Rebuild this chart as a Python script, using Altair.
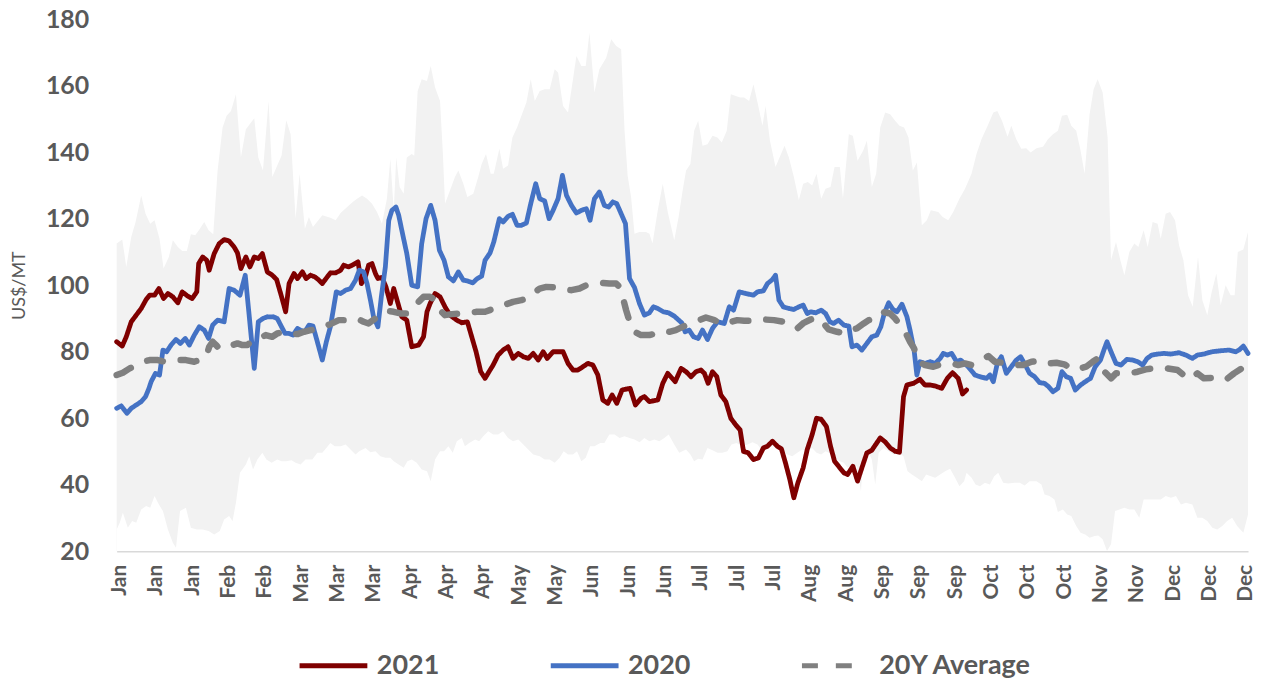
import altair as alt
import pandas as pd

# ---------------- data ----------------
# x = day of year (0 = 1 Jan), y = US$/MT
SERIES_2021 = [
    (0, 83.0), (1.8, 81.7), (3.1, 84.5), (4.7, 89.0), (6.3, 91.0), (7.9, 93.0), (9.5, 95.7), (10.6, 97.0),
    (12.2, 97.0), (13.6, 99.0), (15.1, 96.0), (16.5, 97.5), (18.1, 96.5), (19.7, 94.7), (21.1, 98.0),
    (22.9, 96.7), (24.3, 96.0), (25.8, 98.0), (26.4, 106.5), (27.7, 108.5), (29.0, 107.5), (29.8, 104.5),
    (31.4, 109.5), (33.0, 112.5), (34.6, 113.7), (36.2, 113.3), (37.8, 111.5), (38.9, 109.7), (40.0, 105.0),
    (41.6, 108.5), (42.9, 105.5), (44.3, 108.5), (45.6, 108.0), (46.9, 109.5), (48.5, 104.0), (50.1, 103.0),
    (51.5, 101.7), (53.1, 96.5), (54.4, 92.0), (55.5, 100.5), (57.1, 103.5), (58.2, 102.0), (59.8, 104.0),
    (61.0, 102.0), (62.4, 103.0), (63.8, 102.5), (64.9, 101.7), (66.2, 100.5), (67.8, 102.5), (68.8, 103.7),
    (70.5, 103.7), (72.1, 104.5), (73.1, 106.0), (74.7, 105.5), (75.8, 106.0), (77.7, 107.0), (78.8, 100.5),
    (79.9, 102.0), (81.1, 106.0), (82.2, 106.5), (83.3, 103.5), (84.1, 102.0), (85.4, 102.3), (86.7, 99.5),
    (88.1, 94.5), (89.2, 99.0), (91.8, 90.5), (93.4, 89.5), (95.0, 81.5), (97.2, 82.0), (98.8, 84.5),
    (99.9, 92.0), (100.9, 94.5), (102.5, 97.5), (104.1, 96.5), (105.7, 93.5), (107.3, 91.0), (109.5, 89.5),
    (111.1, 88.7), (112.9, 89.0), (114.3, 84.5), (115.7, 80.0), (117.2, 74.0), (118.6, 72.0), (120.2, 74.5),
    (121.2, 76.0), (122.8, 79.0), (124.4, 80.5), (126.0, 81.5), (127.6, 78.0), (129.3, 79.5), (130.9, 78.5),
    (132.5, 78.0), (134.1, 79.5), (135.7, 77.5), (137.3, 80.0), (138.6, 78.0), (140.5, 80.0), (143.7, 80.0),
    (145.3, 76.5), (146.9, 74.5), (148.5, 74.5), (150.1, 75.5), (151.7, 76.5), (153.3, 76.0), (154.9, 73.0),
    (156.5, 65.5), (158.1, 64.5), (159.5, 67.0), (161.0, 64.5), (162.7, 68.5), (165.3, 69.0), (167.0, 64.0),
    (168.8, 66.0), (169.9, 66.5), (171.5, 65.0), (174.2, 65.5), (175.8, 70.5), (177.4, 73.5), (179.8, 71.0),
    (181.7, 75.0), (183.3, 74.0), (184.9, 72.5), (186.5, 74.0), (188.1, 74.5), (189.2, 73.5), (190.4, 70.5),
    (191.8, 74.0), (193.2, 72.5), (194.5, 67.0), (196.1, 65.0), (197.7, 60.0), (199.3, 58.0), (200.7, 56.5),
    (201.8, 50.0), (203.3, 49.6), (205.0, 47.6), (206.6, 48.1), (208.2, 51.1), (209.5, 51.6), (211.1, 53.1),
    (212.7, 51.6), (214.0, 50.8), (215.3, 46.6), (216.7, 41.6), (218.0, 36.1), (219.3, 40.6), (221.0, 45.1),
    (222.3, 50.6), (223.9, 55.1), (225.3, 60.0), (226.8, 59.7), (228.5, 57.5), (229.8, 51.6), (231.1, 47.1),
    (232.8, 45.1), (234.1, 43.6), (235.3, 43.1), (237.0, 45.6), (238.5, 41.1), (239.9, 45.1), (241.5, 49.6),
    (243.1, 50.4), (245.8, 54.1), (247.4, 52.9), (249.0, 51.1), (250.6, 50.1), (252.0, 49.8), (253.3, 66.5),
    (254.4, 70.0), (256.5, 70.5), (258.6, 71.7), (260.2, 70.0), (261.9, 70.0), (263.5, 69.7), (265.6, 69.0),
    (267.4, 72.0), (269.1, 73.7), (270.9, 72.0), (272.3, 67.3), (273.6, 68.5),
]

SERIES_2020 = [
    (0, 63.0), (1.5, 63.7), (3.3, 61.5), (4.7, 63.0), (6.3, 64.0), (7.9, 65.0), (9.3, 66.5), (10.4, 69.0),
    (11.1, 71.0), (12.5, 73.5), (13.8, 73.0), (14.9, 80.5), (16.1, 80.0), (17.5, 82.0), (19.1, 83.7),
    (20.5, 82.5), (22.1, 84.0), (23.4, 82.0), (25.0, 85.0), (26.6, 87.5), (28.2, 86.5), (29.6, 84.0),
    (30.9, 88.0), (32.5, 89.5), (34.6, 89.0), (36.2, 99.0), (37.8, 98.5), (39.7, 97.0), (41.4, 103.0),
    (42.7, 90.5), (44.3, 75.0), (45.6, 89.0), (47.1, 90.0), (48.5, 90.5), (50.4, 90.5), (51.7, 90.0),
    (52.8, 88.0), (54.2, 85.5), (55.5, 85.5), (56.8, 85.0), (58.2, 87.0), (59.2, 86.5), (60.6, 86.0),
    (61.9, 88.0), (63.2, 87.7), (64.6, 83.0), (66.2, 77.5), (67.5, 83.0), (68.8, 87.5), (69.9, 93.5),
    (70.7, 98.0), (72.1, 97.5), (73.7, 98.5), (75.3, 99.0), (76.9, 101.5), (78.1, 104.5), (79.5, 104.0),
    (80.6, 100.5), (81.7, 95.5), (82.7, 90.5), (84.1, 87.5), (85.2, 96.5), (86.5, 105.5), (87.6, 119.5),
    (88.6, 122.5), (89.9, 123.5), (90.8, 121.0), (91.8, 116.5), (93.4, 109.5), (95.0, 100.0), (96.9, 99.5),
    (98.2, 112.5), (99.6, 120.0), (101.1, 124.0), (102.5, 119.5), (103.9, 110.5), (105.4, 107.5),
    (106.8, 102.5), (108.4, 101.3), (110.0, 104.0), (111.6, 101.5), (112.9, 101.3), (114.6, 100.7),
    (116.1, 102.0), (117.5, 102.7), (118.6, 107.5), (120.2, 109.7), (121.4, 113.0), (123.2, 120.0),
    (124.4, 119.0), (126.0, 120.7), (127.4, 121.3), (128.9, 118.0), (130.3, 118.0), (131.9, 118.7),
    (133.3, 124.5), (134.9, 130.5), (136.2, 126.0), (137.8, 125.3), (139.2, 120.0), (140.5, 122.5),
    (142.1, 126.0), (143.5, 133.0), (144.8, 127.0), (146.4, 124.0), (148.0, 121.7), (149.6, 122.5),
    (151.2, 123.0), (152.4, 119.5), (153.8, 126.0), (155.4, 128.0), (157.0, 124.0), (158.4, 123.5),
    (159.7, 125.0), (161.0, 124.5), (162.4, 121.5), (163.8, 118.5), (165.1, 102.0), (166.7, 99.3),
    (168.3, 94.5), (169.9, 91.0), (171.5, 91.7), (172.8, 93.5), (174.2, 93.0), (176.0, 92.0), (177.7, 91.7),
    (179.5, 90.7), (181.9, 88.7), (183.0, 86.0), (184.3, 86.5), (185.7, 84.5), (187.2, 84.0), (188.6, 86.5),
    (190.2, 83.7), (191.8, 87.0), (193.4, 89.0), (195.6, 88.5), (197.2, 93.5), (198.6, 92.5), (200.4, 98.0),
    (202.5, 97.5), (205.0, 97.0), (206.3, 98.0), (208.2, 98.3), (209.5, 100.5), (211.1, 101.7),
    (212.1, 103.0), (213.2, 95.5), (214.6, 93.5), (216.4, 93.0), (218.0, 92.7), (219.6, 93.5), (221.0, 94.0),
    (222.3, 91.5), (223.4, 92.0), (225.0, 91.7), (226.8, 92.5), (228.2, 91.5), (229.6, 89.0), (230.8, 88.5),
    (232.4, 89.5), (234.1, 88.0), (235.7, 87.7), (236.7, 81.5), (238.3, 82.0), (239.9, 80.5), (241.5, 82.5),
    (243.1, 84.5), (244.7, 85.0), (246.0, 87.5), (247.1, 91.5), (248.5, 94.7), (249.9, 92.7), (251.2, 92.0),
    (252.8, 94.3), (254.4, 90.5), (255.4, 86.5), (256.7, 80.5), (257.6, 73.0), (258.6, 77.0), (260.2, 76.5),
    (261.9, 77.0), (263.5, 76.5), (265.1, 78.0), (266.1, 79.5), (267.4, 79.0), (268.8, 79.5), (270.4, 77.0),
    (271.7, 77.5), (274.1, 75.5), (276.3, 73.0), (277.9, 72.5), (280.0, 72.0), (281.1, 73.0), (282.2, 71.0),
    (283.5, 76.5), (284.8, 78.5), (286.4, 73.5), (288.0, 75.5), (289.6, 77.5), (291.0, 78.5), (292.5, 76.0),
    (293.9, 73.5), (295.5, 72.5), (297.1, 70.7), (298.7, 70.5), (300.0, 69.5), (301.4, 68.0), (303.0, 69.0),
    (304.3, 74.0), (305.7, 72.5), (307.1, 72.0), (308.6, 68.5), (310.3, 70.0), (311.8, 71.0), (313.5, 72.0),
    (315.0, 75.5), (316.7, 77.5), (317.8, 80.5), (318.8, 83.0), (320.1, 80.0), (321.7, 76.5), (323.3, 76.0),
    (325.2, 77.7), (327.1, 77.5), (328.7, 77.0), (330.3, 76.0), (331.7, 78.0), (333.2, 79.0), (335.1, 79.3),
    (337.2, 79.5), (339.3, 79.3), (342.0, 79.7), (344.2, 79.0), (346.3, 78.0), (347.9, 79.0), (350.0, 79.3),
    (352.7, 80.0), (355.4, 80.3), (358.1, 80.5), (360.2, 80.0), (361.3, 80.5), (362.7, 81.7), (364.2, 79.5),
]

SERIES_AVG = [
    (0, 73.0), (2.0, 73.7), (4.2, 75.0), (6.3, 76.0), (8.4, 77.0), (10.6, 77.5), (13.3, 77.5), (15.4, 77.0),
    (17.5, 77.3), (19.7, 77.5), (22.3, 77.5), (25.0, 77.0), (26.6, 77.5), (28.8, 78.5), (29.8, 81.5),
    (30.9, 83.0), (32.0, 82.0), (33.0, 81.0), (34.6, 81.0), (37.3, 82.0), (38.9, 82.5), (40.5, 82.0),
    (42.1, 82.0), (43.7, 83.5), (45.9, 84.0), (48.0, 85.0), (50.1, 84.5), (51.7, 85.5), (53.9, 86.0),
    (56.0, 85.5), (58.2, 85.3), (60.3, 86.0), (62.4, 86.5), (64.6, 86.7), (66.7, 87.5), (68.8, 88.3),
    (71.5, 89.5), (74.7, 89.5), (77.4, 90.0), (79.5, 89.0), (81.1, 88.5), (83.3, 90.0), (84.9, 91.5),
    (87.6, 92.2), (89.2, 92.0), (91.3, 91.5), (93.4, 91.5), (95.0, 92.5), (97.2, 95.0), (98.8, 96.5),
    (100.9, 96.5), (102.5, 95.7), (104.1, 92.5), (105.7, 91.0), (107.9, 91.3), (110.5, 91.5), (113.7, 91.7),
    (115.9, 92.0), (118.6, 92.0), (120.7, 92.7), (122.8, 93.7), (125.5, 94.3), (127.6, 95.0), (130.3, 95.5),
    (131.9, 96.0), (134.1, 97.5), (136.2, 99.0), (138.3, 99.5), (141.5, 99.3), (143.7, 98.7), (146.4, 98.5),
    (149.0, 99.0), (151.2, 100.0), (153.8, 100.5), (156.5, 100.7), (158.6, 100.5), (160.8, 100.5),
    (161.9, 99.5), (162.9, 96.5), (164.0, 92.5), (165.3, 88.5), (166.7, 86.0), (168.8, 85.0), (171.5, 85.0),
    (173.6, 85.5), (175.8, 86.3), (177.9, 86.0), (180.0, 86.5), (182.7, 87.7), (184.9, 88.5), (189.7, 90.3),
    (192.4, 89.5), (195.0, 88.3), (196.6, 88.7), (199.8, 89.5), (202.0, 89.3), (205.2, 89.3), (208.4, 89.7),
    (211.6, 89.5), (214.8, 89.0), (217.0, 88.5), (219.1, 87.0), (221.2, 88.7), (223.4, 89.7), (225.5, 90.3),
    (227.6, 88.5), (229.2, 86.7), (231.9, 86.0), (234.6, 85.5), (236.2, 86.5), (238.3, 87.0), (240.5, 88.5),
    (242.1, 89.5), (244.2, 90.0), (246.3, 92.0), (249.0, 91.5), (250.6, 90.0), (252.2, 88.0), (253.8, 86.0),
    (255.4, 83.0), (256.7, 81.0), (258.1, 77.0), (260.2, 76.0), (262.9, 75.5), (264.5, 76.0), (266.1, 76.5),
    (268.8, 76.5), (270.9, 76.0), (273.1, 76.5), (275.2, 76.0), (278.4, 77.5), (280.6, 78.7), (282.7, 77.0),
    (286.4, 76.5), (289.1, 76.0), (291.8, 76.0), (294.5, 77.0), (297.7, 77.3), (299.8, 76.5), (302.5, 76.7),
    (305.1, 76.2), (308.3, 74.5), (312.1, 75.5), (314.2, 77.0), (315.8, 78.0), (318.0, 74.0), (320.1, 72.0),
    (321.7, 73.5), (326.0, 73.5), (328.7, 74.0), (331.3, 74.7), (335.6, 75.3), (338.3, 75.0), (341.5, 74.5),
    (345.2, 71.7), (347.9, 73.5), (350.0, 72.0), (353.8, 72.2), (357.0, 71.5), (359.7, 73.5), (363.9, 76.0),
]

# upper edge of the historical range band
RANGE_HIGH = [
    (0, 112.5), (1.8, 113.7), (3.1, 105.5), (4.7, 114.5), (6.1, 119.0), (7.9, 127.0), (9.3, 121.5),
    (10.8, 118.5), (12.2, 119.5), (13.8, 114.0), (15.1, 105.0), (16.8, 108.5), (18.1, 113.5), (19.7, 111.5),
    (21.1, 110.3), (22.6, 110.3), (23.9, 115.3), (25.3, 115.0), (26.8, 117.0), (28.2, 119.0), (29.6, 116.5),
    (31.1, 115.3), (32.5, 134.5), (34.1, 147.4), (35.4, 150.9), (36.8, 152.4), (38.4, 157.4), (40.0, 138.4),
    (41.6, 146.9), (44.3, 150.2), (45.6, 138.4), (47.1, 134.5), (48.9, 155.4), (50.1, 132.5), (51.7, 136.0),
    (53.1, 139.0), (54.6, 149.6), (56.0, 145.4), (57.6, 120.0), (58.9, 133.5), (60.6, 117.0), (61.9, 120.5),
    (63.2, 117.5), (66.2, 121.0), (68.8, 120.3), (70.5, 119.5), (72.1, 121.7), (74.2, 123.5), (76.0, 125.0),
    (77.4, 126.0), (79.0, 127.0), (80.6, 126.0), (82.2, 124.5), (83.8, 122.0), (85.4, 118.5), (87.0, 126.0),
    (88.1, 138.0), (89.2, 122.5), (90.0, 138.4), (91.1, 129.5), (92.4, 127.5), (93.4, 138.4), (95.0, 139.4),
    (95.8, 138.9), (96.9, 158.4), (98.2, 161.9), (99.9, 161.4), (101.1, 165.9), (102.5, 159.4), (104.1, 155.4),
    (105.0, 139.9), (105.7, 124.5), (107.3, 128.5), (108.9, 132.5), (110.0, 134.5), (111.6, 130.5),
    (112.9, 126.5), (114.8, 127.5), (116.4, 132.5), (117.5, 136.4), (118.9, 139.4), (120.4, 133.5),
    (121.4, 133.5), (123.2, 141.0), (124.4, 135.0), (126.0, 136.0), (127.4, 144.4), (128.9, 147.4),
    (130.3, 150.9), (131.9, 154.9), (133.3, 161.9), (134.6, 155.4), (136.2, 158.4), (137.8, 158.9),
    (139.4, 158.9), (141.0, 164.9), (142.1, 163.9), (143.7, 153.9), (145.3, 151.9), (146.9, 161.9),
    (148.0, 168.9), (149.6, 165.9), (151.0, 165.9), (152.2, 175.9), (153.8, 157.9), (155.4, 164.9),
    (157.6, 168.4), (159.2, 173.9), (160.8, 171.9), (162.4, 170.9), (163.5, 146.4), (164.5, 132.9),
    (165.6, 126.5), (166.7, 115.5), (168.3, 116.0), (170.4, 116.0), (171.5, 115.5), (172.5, 112.5),
    (174.2, 122.5), (175.8, 130.5), (177.4, 122.0), (179.5, 113.5), (180.9, 120.5), (182.2, 128.5),
    (183.3, 134.5), (184.7, 136.4), (185.9, 146.4), (187.2, 149.4), (188.6, 141.9), (190.2, 142.4),
    (191.8, 144.9), (193.4, 144.4), (194.8, 142.9), (196.4, 146.4), (197.7, 157.4), (199.3, 156.9),
    (200.7, 156.4), (202.0, 156.4), (203.6, 155.4), (205.0, 160.4), (206.3, 154.9), (207.9, 147.9),
    (208.9, 153.9), (210.3, 143.4), (212.1, 135.5), (215.0, 141.9), (216.4, 138.4), (218.0, 132.5),
    (219.6, 125.5), (221.0, 130.5), (222.5, 131.0), (223.9, 130.0), (225.3, 133.5), (226.8, 126.0),
    (228.2, 129.0), (229.8, 129.5), (231.1, 135.5), (232.8, 135.5), (233.8, 126.0), (235.7, 145.4),
    (237.0, 144.9), (238.5, 137.4), (240.3, 140.4), (241.5, 143.4), (243.1, 129.5), (244.5, 133.5),
    (245.8, 147.4), (247.4, 151.9), (249.0, 151.4), (250.6, 149.4), (252.0, 147.9), (253.5, 147.4),
    (254.9, 144.4), (256.3, 134.5), (257.6, 136.9), (259.2, 118.0), (260.8, 119.5), (262.1, 122.5),
    (264.5, 122.0), (265.9, 120.5), (267.7, 119.5), (269.3, 122.0), (271.3, 126.0), (273.1, 129.0),
    (275.2, 133.5), (276.8, 139.4), (278.4, 143.9), (280.6, 148.4), (282.2, 151.9), (283.5, 152.4),
    (285.0, 149.4), (286.8, 144.6), (288.0, 147.9), (289.6, 143.9), (291.2, 141.0), (292.8, 141.2),
    (294.2, 139.9), (296.1, 141.2), (298.2, 141.6), (299.8, 143.9), (301.4, 145.4), (303.0, 146.4),
    (304.3, 150.9), (306.0, 151.2), (307.3, 147.9), (308.9, 146.4), (310.3, 140.4), (311.6, 133.5),
    (313.2, 151.4), (314.5, 158.9), (315.8, 161.9), (317.4, 157.9), (319.0, 144.4), (320.1, 107.5),
    (321.7, 113.0), (323.1, 107.5), (324.4, 103.0), (326.0, 110.0), (327.6, 112.5), (328.9, 111.5),
    (330.6, 116.5), (331.9, 111.5), (333.5, 119.0), (335.1, 118.5), (336.1, 114.0), (337.7, 121.5),
    (339.1, 122.0), (340.7, 119.5), (342.0, 112.0), (343.4, 107.5), (344.9, 97.0), (346.4, 93.5),
    (348.1, 108.5), (349.5, 95.5), (351.1, 91.0), (352.4, 97.5), (354.0, 103.5), (355.4, 94.0),
    (357.0, 100.0), (358.6, 97.0), (359.9, 97.0), (360.9, 110.0), (362.7, 110.7), (364.2, 116.0),
]

# lower edge of the historical range band
RANGE_LOW = [
    (0, 26.6), (1.0, 28.6), (2.0, 31.6), (3.6, 27.1), (5.0, 29.1), (6.3, 28.6), (7.9, 32.6), (9.5, 33.6),
    (10.8, 33.1), (12.2, 36.6), (13.6, 34.1), (14.9, 32.1), (16.5, 26.6), (18.1, 22.6), (19.1, 21.1),
    (20.4, 32.1), (22.3, 33.1), (23.9, 27.1), (25.8, 26.6), (27.7, 26.6), (29.6, 26.1), (31.4, 25.1),
    (33.2, 26.1), (34.6, 29.6), (36.2, 30.6), (37.3, 29.1), (38.4, 34.6), (39.7, 43.6), (41.6, 46.1),
    (42.7, 48.6), (43.9, 44.6), (45.3, 47.6), (46.9, 49.6), (48.2, 47.6), (49.9, 46.6), (51.7, 47.6),
    (53.1, 47.1), (54.6, 47.1), (56.3, 47.4), (57.6, 46.6), (59.2, 46.1), (60.8, 47.6), (63.0, 47.6),
    (64.6, 49.6), (66.2, 49.6), (67.5, 51.1), (68.8, 52.6), (70.2, 51.6), (72.1, 51.6), (73.7, 52.1),
    (75.3, 50.6), (76.9, 49.1), (78.1, 50.1), (80.1, 51.1), (81.7, 49.8), (83.3, 50.1), (84.9, 48.6),
    (86.5, 48.1), (88.1, 48.1), (89.2, 47.1), (90.8, 46.1), (92.4, 45.1), (93.6, 47.1), (95.0, 47.6),
    (96.6, 46.6), (98.2, 44.6), (99.9, 44.1), (101.1, 41.1), (102.5, 47.6), (104.1, 50.1), (105.4, 50.1),
    (106.8, 51.6), (108.2, 49.6), (109.5, 53.1), (111.1, 54.1), (112.1, 51.6), (113.5, 52.6), (115.4, 53.6),
    (116.7, 53.1), (118.0, 54.6), (119.6, 56.1), (121.2, 55.1), (122.8, 55.1), (124.4, 56.1), (126.0, 54.1),
    (127.6, 53.1), (129.3, 53.6), (130.9, 52.1), (132.5, 50.6), (134.1, 49.1), (136.2, 48.6), (137.8, 47.6),
    (139.4, 47.6), (141.0, 46.6), (142.6, 48.1), (143.9, 50.1), (145.3, 49.1), (146.9, 49.1), (148.2, 50.1),
    (149.6, 47.1), (151.0, 48.1), (152.4, 51.6), (153.8, 51.6), (155.7, 52.6), (157.0, 52.6), (158.6, 55.1),
    (160.3, 55.1), (161.9, 54.1), (163.5, 54.6), (165.1, 54.1), (166.7, 53.6), (168.3, 52.8), (169.9, 54.1),
    (171.5, 53.1), (173.1, 53.6), (174.7, 53.1), (176.3, 54.1), (177.7, 55.1), (179.5, 52.1), (181.1, 49.6),
    (183.3, 50.6), (184.7, 49.1), (185.9, 47.1), (187.2, 47.8), (188.6, 47.6), (190.2, 51.1), (191.8, 50.4),
    (193.4, 49.6), (195.0, 49.6), (196.6, 50.1), (197.9, 52.1), (199.6, 52.6), (201.1, 51.6), (203.1, 52.1),
    (204.7, 52.8), (206.3, 52.1), (207.9, 50.1), (209.5, 51.1), (211.1, 51.6), (212.7, 51.1), (214.3, 50.1),
    (215.9, 49.1), (217.5, 48.6), (219.1, 49.6), (220.7, 50.6), (222.3, 50.1), (223.9, 51.1), (225.3, 49.6),
    (226.8, 49.1), (228.2, 50.1), (229.8, 49.4), (231.1, 48.1), (232.8, 47.1), (234.1, 46.6), (235.3, 45.1),
    (237.0, 46.1), (238.3, 45.6), (239.6, 38.1), (240.5, 50.6), (242.1, 49.6), (243.1, 47.6), (244.2, 40.1),
    (245.3, 49.6), (246.9, 51.1), (248.5, 50.1), (250.1, 49.1), (251.7, 49.6), (253.3, 48.6), (254.6, 44.1),
    (256.0, 43.1), (257.6, 42.1), (259.2, 41.1), (260.6, 43.1), (262.1, 42.6), (263.5, 42.1), (265.1, 43.1),
    (266.7, 44.1), (268.3, 44.8), (269.9, 42.1), (271.3, 39.6), (272.8, 41.1), (273.6, 43.6), (275.2, 42.1),
    (276.5, 40.1), (277.9, 39.6), (279.5, 40.6), (281.1, 40.1), (282.5, 42.6), (283.8, 43.6), (285.4, 40.6),
    (287.0, 40.4), (289.1, 40.6), (290.7, 40.6), (292.3, 39.8), (293.9, 41.1), (296.1, 41.1), (297.7, 40.1),
    (298.7, 37.1), (300.3, 36.6), (301.9, 35.6), (303.0, 31.8), (304.6, 32.6), (306.0, 31.1), (307.3, 30.6),
    (308.9, 27.6), (310.3, 25.6), (311.8, 25.1), (313.2, 24.1), (314.8, 24.6), (316.0, 24.8), (317.4, 23.6),
    (318.8, 20.1), (320.1, 22.1), (321.4, 32.1), (322.8, 32.6), (324.4, 33.1), (326.0, 32.6), (327.6, 32.6),
    (329.2, 30.1), (330.6, 35.6), (332.4, 35.6), (334.0, 35.6), (336.1, 35.6), (337.7, 36.6), (339.4, 36.1),
    (341.0, 36.6), (342.6, 34.1), (344.2, 34.6), (346.3, 34.1), (347.9, 30.1), (349.5, 30.1), (351.1, 29.1),
    (352.7, 27.1), (354.3, 26.6), (355.9, 27.6), (357.5, 29.1), (359.1, 30.1), (360.7, 27.6), (362.7, 25.6),
    (364.2, 31.1),
]

SERIES_NAMES = ["2021", "2020", "20Y Average"]
SERIES_COLORS = ["#7F0000", "#4472C4", "#808080"]
TICK_LABELS = ["Jan", "Jan", "Jan", "Feb", "Feb", "Mar", "Mar", "Mar", "Apr", "Apr", "Apr",
               "May", "May", "Jun", "Jun", "Jun", "Jul", "Jul", "Jul", "Aug", "Aug",
               "Sep", "Sep", "Sep", "Oct", "Oct", "Oct", "Nov", "Nov", "Dec", "Dec", "Dec"]
Y_TICKS = [20, 40, 60, 80, 100, 120, 140, 160, 180]

# ---------------- layout ----------------
X_MAX = 364.2
TICK_START = 0.963
TICK_STEP = 11.696
TICK_POS = [round(TICK_START + TICK_STEP * k, 3) for k in range(len(TICK_LABELS))]
FONT = "Lato"
TXT = "#595959"


def frame(pairs, name):
    return pd.DataFrame({"day": [p[0] for p in pairs],
                         "value": [p[1] for p in pairs],
                         "series": name})


lines_df = pd.concat([frame(SERIES_2021, "2021"),
                      frame(SERIES_2020, "2020"),
                      frame(SERIES_AVG, "20Y Average")], ignore_index=True)
high_df = frame(RANGE_HIGH, "high")
low_df = frame(RANGE_LOW, "low")

label_list = "[" + ",".join("'%s'" % s for s in TICK_LABELS) + "]"
label_expr = "%s[round((datum.value - %s) / %s)]" % (label_list, TICK_START, TICK_STEP)

x_enc = alt.X(
    "day:Q",
    scale=alt.Scale(domain=[0, X_MAX], nice=False, zero=False),
    axis=alt.Axis(values=TICK_POS, labelExpr=label_expr, labelAngle=270, labelAlign="right",
                  labelBaseline="middle", labelFont=FONT, labelFontSize=21, labelFontWeight="bold",
                  labelColor=TXT, labelPadding=13, labelOverlap=False, labelFlush=False,
                  ticks=False, tickSize=0, grid=False, domainColor="#D9D9D9", domainWidth=1.5,
                  title=None, zindex=2),
)
y_enc = alt.Y(
    "value:Q",
    scale=alt.Scale(domain=[20, 180], nice=False, zero=False),
    axis=alt.Axis(values=Y_TICKS, labelFont=FONT, labelFontSize=25, labelFontWeight="bold",
                  labelColor=TXT, labelPadding=28, ticks=False, tickSize=0, domain=False, grid=False,
                  title="US$/MT", titleFont=FONT, titleFontSize=18, titleFontWeight="normal",
                  titleColor=TXT, titleAngle=270, titleAlign="center", titleBaseline="middle",
                  titleX=-97, titleY=267),
)

band_high = alt.Chart(high_df).mark_area(color="#F2F2F2", opacity=1).encode(
    x=x_enc, y=y_enc, y2=alt.Y2(datum=20))
band_low = alt.Chart(low_df).mark_area(color="#FFFFFF", opacity=1).encode(
    x=x_enc, y=y_enc, y2=alt.Y2(datum=20))

legend = alt.Legend(
    orient="none", legendX=181, legendY=612, direction="horizontal", title=None,
    symbolType="stroke", symbolSize=4624, symbolStrokeWidth=5,
    labelFont=FONT, labelFontSize=27, labelFontWeight="bold", labelColor=TXT,
    labelOffset=7, columnPadding=101, padding=0,
)

lines = alt.Chart(lines_df).mark_line(strokeCap="round", strokeJoin="round").encode(
    x=x_enc, y=y_enc,
    color=alt.Color("series:N", scale=alt.Scale(domain=SERIES_NAMES, range=SERIES_COLORS),
                    legend=legend),
    strokeDash=alt.StrokeDash("series:N",
                              scale=alt.Scale(domain=SERIES_NAMES, range=[[1, 0], [1, 0], [16, 18]]),
                              legend=legend),
    strokeWidth=alt.condition("datum.series === '20Y Average'", alt.value(6.5), alt.value(4.8)),
)

chart = alt.layer(band_high, band_low, lines).properties(
    width=1135, height=534,
    autosize=alt.AutoSizeParams(type="none"),
    padding={"left": 109, "top": 10, "right": 6, "bottom": 136},
).configure_view(stroke=None)

chart.save("out.html", embed_options={"renderer": "svg", "actions": False})
